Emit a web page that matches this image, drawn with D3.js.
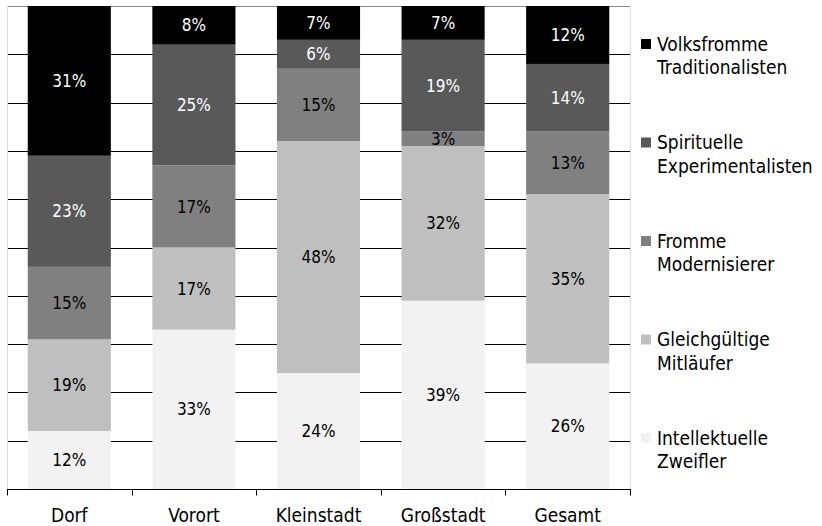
<!DOCTYPE html>
<html>
<head>
<meta charset="utf-8">
<script src="https://cdn.jsdelivr.net/npm/d3@7"></script>
<style>
  body { margin: 0; background: #fff; overflow: hidden; }
  svg { display: block; font-family: "DejaVu Sans Condensed", "DejaVu Sans", sans-serif; font-stretch: condensed; }
</style>
</head>
<body>
<div id="chart"></div>
<script>
// categories along the x axis
const categories = ["Dorf", "Vorort", "Kleinstadt", "Großstadt", "Gesamt"];

// series, bottom to top of each stack
const seriesNames = ["Intellektuelle Zweifler", "Gleichgültige Mitläufer", "Fromme Modernisierer",
    "Spirituelle Experimentalisten", "Volksfromme Traditionalisten"];
const zweifler     = [12, 33, 24, 39, 26];
const mitlaeufer   = [19, 17, 48, 32, 35];
const modernisierer = [15, 17, 15, 3, 13];
const experimentalisten = [23, 25, 6, 19, 14];
const traditionalisten  = [31, 8, 7, 7, 12];

// legend labels, split in two lines, top to bottom
const legendLines = [
    ["Volksfromme", "Traditionalisten"],
    ["Spirituelle", "Experimentalisten"],
    ["Fromme", "Modernisierer"],
    ["Gleichgültige", "Mitläufer"],
    ["Intellektuelle", "Zweifler"]
];

const yTicks = [0, 10, 20, 30, 40, 50, 60, 70, 80, 90, 100];

const colors = ["#f2f2f2", "#bfbfbf", "#808080", "#595959", "#000000"];
const textColors = ["#000", "#000", "#000", "#fff", "#fff"];

const W = 822, H = 526;
const mLeft = 7, mRight = 630, mTop = 6, mBottom = 489;

const rows = categories.map((c, i) => ({
    cat: c,
    s0: zweifler[i], s1: mitlaeufer[i], s2: modernisierer[i],
    s3: experimentalisten[i], s4: traditionalisten[i]
}));
const keys = ["s0", "s1", "s2", "s3", "s4"];
const stack = d3.stack().keys(keys)(rows);

const x = d3.scaleBand().domain(categories).range([mLeft, mRight]).paddingInner(0.333).paddingOuter(0.1665);
const xAxisScale = d3.scaleBand().domain(categories).range([mLeft, mRight]);
const y = d3.scaleLinear().domain([0, 100]).range([mBottom, mTop]);

const svg = d3.select("#chart").append("svg")
    .attr("width", W)
    .attr("height", H);

// grid lines
svg.append("g")
    .selectAll("line")
    .data(yTicks.filter(t => t > 0))
    .join("line")
    .attr("x1", mLeft)
    .attr("x2", mRight)
    .attr("y1", d => Math.round(y(d)) + 0.5)
    .attr("y2", d => Math.round(y(d)) + 0.5)
    .attr("stroke", d => d === 100 ? "#888" : "#000")
    .attr("stroke-width", 1);

// faint plot borders
svg.append("line")
    .attr("x1", mLeft + 0.5).attr("x2", mLeft + 0.5)
    .attr("y1", mTop).attr("y2", mBottom)
    .attr("stroke", "#ddd");
svg.append("line")
    .attr("x1", mRight + 0.5).attr("x2", mRight + 0.5)
    .attr("y1", mTop).attr("y2", mBottom)
    .attr("stroke", "#ddd");

// bars
const layer = svg.append("g")
    .selectAll("g")
    .data(stack)
    .join("g")
    .attr("fill", (d, i) => colors[i]);

layer.selectAll("rect")
    .data(d => d)
    .join("rect")
    .attr("x", d => x(d.data.cat))
    .attr("width", x.bandwidth())
    .attr("y", d => y(d[1]))
    .attr("height", d => y(d[0]) - y(d[1]));

// value labels
stack.forEach((s, i) => {
    svg.append("g")
        .selectAll("text")
        .data(s)
        .join("text")
        .attr("x", d => x(d.data.cat) + x.bandwidth() / 2)
        .attr("y", d => (y(d[0]) + y(d[1])) / 2)
        .attr("dy", "0.36em")
        .attr("text-anchor", "middle")
        .attr("fill", textColors[i])
        .style("font-size", "17px")
        .text(d => (d[1] - d[0]) + "%");
});

// x axis
const xAxis = svg.append("g")
    .attr("transform", "translate(0," + (mBottom + 0.5) + ")");
xAxis.append("line")
    .attr("x1", mLeft).attr("x2", mRight + 1)
    .attr("stroke", "#000");
xAxis.selectAll(".tk")
    .data(categories.map(c => xAxisScale(c)).concat([mRight]))
    .join("line")
    .attr("class", "tk")
    .attr("x1", d => Math.round(d) + 0.5)
    .attr("x2", d => Math.round(d) + 0.5)
    .attr("y1", 0).attr("y2", 6)
    .attr("stroke", "#000");
xAxis.selectAll("text")
    .data(categories)
    .join("text")
    .attr("x", d => xAxisScale(d) + xAxisScale.bandwidth() / 2)
    .attr("y", 32)
    .attr("text-anchor", "middle")
    .style("font-size", "19px")
    .text(d => d);

// legend
const legend = svg.append("g")
    .selectAll("g")
    .data(legendLines)
    .join("g")
    .attr("transform", (d, i) => "translate(641," + (44 + i * 98.5) + ")");

legend.append("rect")
    .attr("x", 0).attr("y", -5)
    .attr("width", 10).attr("height", 10)
    .attr("fill", (d, i) => colors[4 - i]);

legend.append("text")
    .attr("x", 16)
    .attr("y", 0)
    .style("font-size", "19px")
    .selectAll("tspan")
    .data(d => d)
    .join("tspan")
    .attr("x", 16)
    .attr("dy", (d, j) => j === 0 ? "0.36em" : "1.22em")
    .text(d => d);
</script>
</body>
</html>
